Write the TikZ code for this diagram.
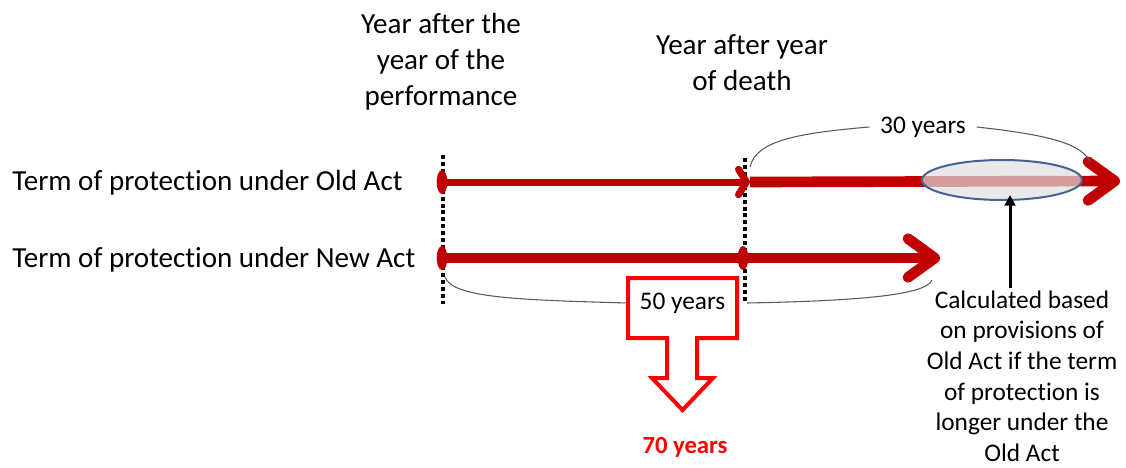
\documentclass[tikz,border=0pt]{standalone}
\usepackage{fontspec}
\setmainfont[Ligatures=NoCommon]{Carlito}
\usetikzlibrary{arrows.meta, shapes.geometric}

\definecolor{darkred}{RGB}{192,0,0}
\definecolor{hiblue}{RGB}{70,100,145}

\tikzset{
    heading/.style={font=\fontsize{21.8}{27}\selectfont, align=center, inner sep=0pt},
    rowtext/.style={font=\fontsize{21.8}{27}\selectfont, inner sep=0pt},
    notetext/.style={font=\fontsize{19}{23}\selectfont, align=center, inner sep=0pt},
    marker/.style={ellipse, fill=darkred, minimum width=8pt, minimum height=18pt, inner sep=0pt},
    guide/.style={line width=2.5pt, dash pattern=on 3pt off 2.2pt},
    timeline/.style={darkred, line width=8pt, -{Straight Barb[length=20pt,width=29pt,round]}},
    hilite/.style={ellipse, draw=hiblue, line width=1.5pt, fill=gray!25, fill opacity=0.7,
        minimum width=120pt, minimum height=30pt},
    brace/.style={black!65, line width=0.8pt},
    callout/.style={draw=red, line width=3pt, fill=white, line join=miter}
}

\begin{document}
\begin{tikzpicture}[x=0.75pt, y=-0.75pt]
    \useasboundingbox (0,0) rectangle (1126,467);
    % Headings
    \node[heading] (perf) at (441,62) {Year after the\\year of the\\performance};
    \node[heading] (death) at (742,63) {Year after year\\of death};
    % Row labels
    \node[rowtext, anchor=west] (oldlbl) at (12,183) {Term of protection under Old Act};
    \node[rowtext, anchor=west] (newlbl) at (12,260) {Term of protection under New Act};
    % Dotted guides
    \coordinate (g1top) at (443,155);
    \coordinate (g1bot) at (443,304);
    \coordinate (g2top) at (745,158);
    \coordinate (g2bot) at (745,303);
    \draw[guide] (g1top) -- (g1bot);
    \draw[guide] (g2top) -- (g2bot);
    % Old Act
    \node[marker] (oldstart) at (442,182) {};
    \coordinate (oldmid) at (750,182);
    \coordinate (oldend) at (1120,181);
    \draw[timeline, line width=5.25pt, -{Straight Barb[length=6pt,width=19pt,round]}] (oldstart.center) -- (oldmid);
    \draw[timeline] (oldmid) -- (oldend);
    \node[hilite] (hl) at (1002,180) {};
    % New Act
    \node[marker] (newstart) at (442,258) {};
    \node[marker] (newmid) at (743,258) {};
    \coordinate (newend) at (940,258);
    \draw[timeline] (newstart.center) -- (newend);
    % 30 years
    \node[notetext, inner xsep=8pt] (thirty) at (923,127) {30 years};
    \coordinate (c30a) at (750,167);
    \coordinate (c30b) at (1090,162);
    \draw[brace] (c30a) .. controls (756,140) and (800,133) .. (thirty.west);
    \draw[brace] (thirty.east) .. controls (1050,135) and (1082,144) .. (c30b);
    % 50 years, changed to 70
    \draw[callout] (628,278) -- (737,278) -- (737,338) -- (697,338) -- (697,378) -- (713,378)
        -- (682.5,410) -- (652,378) -- (667,378) -- (667,338) -- (628,338) -- cycle;
    \node[notetext, minimum width=81.75pt, minimum height=30pt] (fifty) at (682.5,303) {50 years};
    \coordinate (c50a) at (445,277);
    \coordinate (c50b) at (747,303);
    \coordinate (c50c) at (932,280);
    \draw[brace] (c50a) .. controls (452,298) and (520,300) .. (fifty.west);
    \draw[brace] (c50b) .. controls (850,301) and (926,296) .. (c50c);
    \node[notetext, text=red, font=\fontsize{18.5}{23}\selectfont\bfseries] (seventy) at (685,447) {70 years};
    % Note on the Old Act
    \node[notetext] (note) at (1022,376) {Calculated based\\on provisions of\\Old Act if the term\\of protection is\\longer under the\\Old Act};
    \draw[line width=2.25pt, -{Triangle[length=8pt,width=8pt]}] ([xshift=-9pt,yshift=2pt]note.north) -- ([xshift=6pt,yshift=4.5pt]hl.south);
\end{tikzpicture}
\end{document}
